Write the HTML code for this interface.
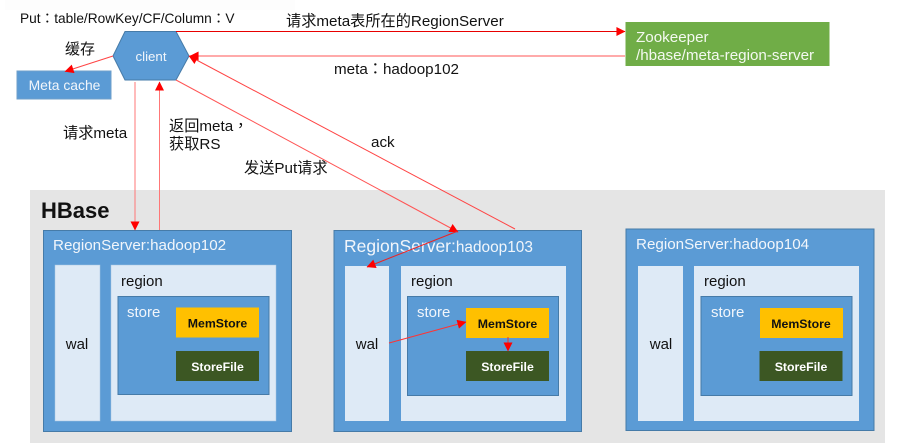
<!DOCTYPE html>
<html><head><meta charset="utf-8">
<style>
html,body{margin:0;padding:0;background:#fff}
svg{display:block}
text{font-family:"Liberation Sans","Noto Sans CJK SC",sans-serif;fill:#111}
.c{font-family:"Noto Sans CJK TC",sans-serif}
.w{fill:#f2f6fb}
.b{font-weight:bold;font-size:12.3px;text-anchor:middle}
</style></head><body>
<svg width="905" height="448" viewBox="0 0 905 448" xmlns="http://www.w3.org/2000/svg">
<defs>
<marker id="a" viewBox="0 0 10 10" refX="9.500" refY="5" markerWidth="10" markerHeight="9" markerUnits="userSpaceOnUse" orient="auto"><path d="M0 0L10 5L0 10z" fill="#f00"/></marker>
</defs>
<rect width="905" height="448" fill="#fff"/>
<rect x="5" y="0" width="290" height="10" fill="#fdfdfd"/>
<rect x="30" y="190" width="855" height="253" fill="#e5e5e5"/>
<text x="41" y="218" style="font-size:22px;font-weight:bold">HBase</text>

<!-- RS1 -->
<rect x="43.500" y="230.500" width="248" height="201" fill="#5b9bd5" stroke="#467ba8"/>
<text class="w" x="53" y="250" font-size="15.200">RegionServer:hadoop102</text>
<rect x="55" y="265" width="45" height="156" fill="#deeaf6" stroke="#a9c5e2" stroke-width=".5"/>
<rect x="111" y="265" width="165" height="156" fill="#deeaf6" stroke="#a9c5e2" stroke-width=".5"/>
<rect x="118" y="296.500" width="151" height="98" fill="#5b9bd5" stroke="#467ba8"/>
<rect x="176" y="307.500" width="83" height="30" fill="#ffc000"/>
<rect x="176" y="351" width="83" height="30" fill="#3c5723"/>
<text x="77" y="349" font-size="15" text-anchor="middle">wal</text>
<text x="121" y="286" font-size="15">region</text>
<text class="w" x="127" y="317" font-size="15">store</text>
<text class="b" x="217.500" y="327.500">MemStore</text>
<text class="b" x="217.500" y="371" style="fill:#fff">StoreFile</text>

<!-- RS2 -->
<rect x="334" y="230.500" width="247.500" height="201" fill="#5b9bd5" stroke="#467ba8"/>
<text class="w" x="344" y="252"><tspan font-size="17.500">RegionServer:</tspan><tspan font-size="15.400">hadoop103</tspan></text>
<rect x="345" y="266" width="44" height="155" fill="#deeaf6"/>
<rect x="401" y="266" width="165" height="155" fill="#deeaf6"/>
<rect x="407.500" y="296.500" width="151" height="99" fill="#5b9bd5" stroke="#467ba8"/>
<rect x="466" y="308" width="83" height="30" fill="#ffc000"/>
<rect x="466" y="351" width="83" height="30" fill="#3c5723"/>
<text x="367" y="349" font-size="15" text-anchor="middle">wal</text>
<text x="411" y="286" font-size="15">region</text>
<text class="w" x="417" y="317" font-size="15">store</text>
<text class="b" x="507.500" y="328">MemStore</text>
<text class="b" x="507.500" y="371" style="fill:#fff">StoreFile</text>

<!-- RS3 -->
<rect x="626" y="229" width="248" height="201.500" fill="#5b9bd5" stroke="#467ba8"/>
<text class="w" x="636" y="249" font-size="15.200">RegionServer:hadoop104</text>
<rect x="638" y="266" width="45" height="155" fill="#deeaf6"/>
<rect x="694" y="266" width="165" height="155" fill="#deeaf6"/>
<rect x="701" y="296.500" width="151" height="99" fill="#5b9bd5" stroke="#467ba8"/>
<rect x="760" y="308" width="83" height="30" fill="#ffc000"/>
<rect x="759.500" y="351" width="83" height="30" fill="#3c5723"/>
<text x="661" y="349" font-size="15" text-anchor="middle">wal</text>
<text x="704" y="286" font-size="15">region</text>
<text class="w" x="711" y="317" font-size="15">store</text>
<text class="b" x="801" y="328">MemStore</text>
<text class="b" x="801" y="371" style="fill:#fff">StoreFile</text>

<!-- top shapes -->
<polygon points="113,56 125,31.500 176,31.500 189,56 176,80 125,80" fill="#5b9bd5" stroke="#467ba8"/>
<text class="w" x="151" y="61" font-size="13.300" text-anchor="middle">client</text>
<rect x="17" y="71" width="94" height="28" fill="#5b9bd5" stroke="#6f9fca"/>
<text class="w" x="64.500" y="90" font-size="13.900" text-anchor="middle">Meta cache</text>
<rect x="625.500" y="22" width="204" height="44" fill="#70ad47"/>
<text x="636" y="42" font-size="15.200" style="fill:#f4f9f0">Zookeeper</text>
<text x="636" y="60" font-size="15.200" style="fill:#f4f9f0">/hbase/meta-region-server</text>

<!-- connectors -->
<g fill="none" stroke="#f00">
<path d="M176 31.500H625" stroke="#e80000" marker-end="url(#a)"/>
<path d="M625 56H190" stroke="#f77" stroke-width="1.200" marker-end="url(#a)"/>
<path d="M113 56L65 71.500" stroke="#f44" marker-end="url(#a)"/>
<path d="M135 82V230" stroke="#f77" marker-end="url(#a)"/>
<path d="M159.500 230V82" stroke="#f77" marker-end="url(#a)"/>
<path d="M176 80L458 232" stroke="#f55" marker-end="url(#a)"/>
<path d="M515 229L189 56" stroke="#f44" marker-end="url(#a)"/>
<path d="M458 231L367 267" stroke="#e22" marker-end="url(#a)"/>
<path d="M389 343L466 322" stroke="#f33" marker-end="url(#a)"/>
<path d="M508 337V351" stroke="#e33" marker-end="url(#a)"/>
</g>

<!-- labels -->
<text x="20" y="23" font-size="13.700">Put<tspan class="c">：</tspan>table/RowKey/CF/Column<tspan class="c">：</tspan>V</text>
<text x="286" y="26" font-size="15.200">请求meta表所在的RegionServer</text>
<text x="334" y="74" font-size="15.200">meta<tspan class="c">：</tspan>hadoop102</text>
<text x="65" y="54" font-size="15">缓存</text>
<text x="63" y="138" font-size="15.200">请求meta</text>
<text x="169" y="131" font-size="15.200">返回meta<tspan class="c">，</tspan></text>
<text x="169" y="149" font-size="15.200">获取RS</text>
<text x="244" y="173" font-size="15.200">发送Put请求</text>
<text x="371" y="147" font-size="15.200">ack</text>
</svg>
</body></html>
